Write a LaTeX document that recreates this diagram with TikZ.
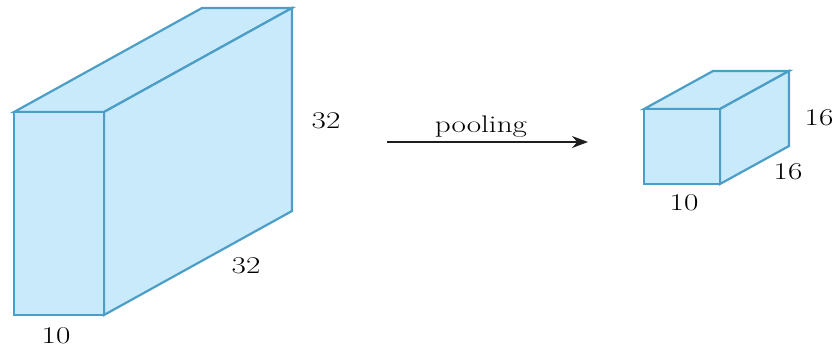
\documentclass[tikz,border=0pt]{standalone}
\usetikzlibrary{arrows.meta}
\definecolor{boxfill}{RGB}{200,234,251}
\definecolor{boxedge}{RGB}{76,158,198}
\definecolor{arrowcol}{RGB}{30,30,30}
\begin{document}
\begin{tikzpicture}[x=1pt,y=-1pt,
  face/.style={fill=boxfill,draw=boxedge,line width=2.2pt,line join=miter},
  dimlabel/.style={anchor=base,inner sep=0pt,font=\fontsize{24}{28}\selectfont,xscale=1.3,text=black},
  flowarrow/.style={draw=arrowcol,line width=1.6pt,-{Stealth[length=16pt,width=12pt]}}]
\useasboundingbox (0,0) rectangle (837,349);
% big box
\coordinate (A1) at (14,112);
\coordinate (A2) at (104,112);
\coordinate (A3) at (104,315);
\coordinate (A4) at (14,315);
\coordinate (B1) at (202,8);
\coordinate (B2) at (292,8);
\coordinate (B3) at (292,211);
\draw[face] (A1) -- (A2) -- (B2) -- (B1) -- cycle;
\draw[face] (A2) -- (B2) -- (B3) -- (A3) -- cycle;
\draw[face] (A1) -- (A2) -- (A3) -- (A4) -- cycle;
% small box
\coordinate (C1) at (644,109);
\coordinate (C2) at (720,109);
\coordinate (C3) at (720,184);
\coordinate (C4) at (644,184);
\coordinate (D1) at (713,71);
\coordinate (D2) at (789,71);
\coordinate (D3) at (789,146);
\draw[face] (C1) -- (C2) -- (D2) -- (D1) -- cycle;
\draw[face] (C2) -- (D2) -- (D3) -- (C3) -- cycle;
\draw[face] (C1) -- (C2) -- (C3) -- (C4) -- cycle;
% labels
\node[dimlabel] (l1) at (326,128) {32};
\node[dimlabel] (l2) at (246,273) {32};
\node[dimlabel] (l3) at (56,343) {10};
\node[dimlabel] (l4) at (819,125) {16};
\node[dimlabel] (l5) at (788,179) {16};
\node[dimlabel] (l6) at (684,210) {10};
% arrow
\coordinate (p1) at (387,142);
\coordinate (p2) at (588,142);
\draw[flowarrow] (p1) -- (p2);
\node[dimlabel] (pool) at (481,132) {pooling};
\end{tikzpicture}
\end{document}
